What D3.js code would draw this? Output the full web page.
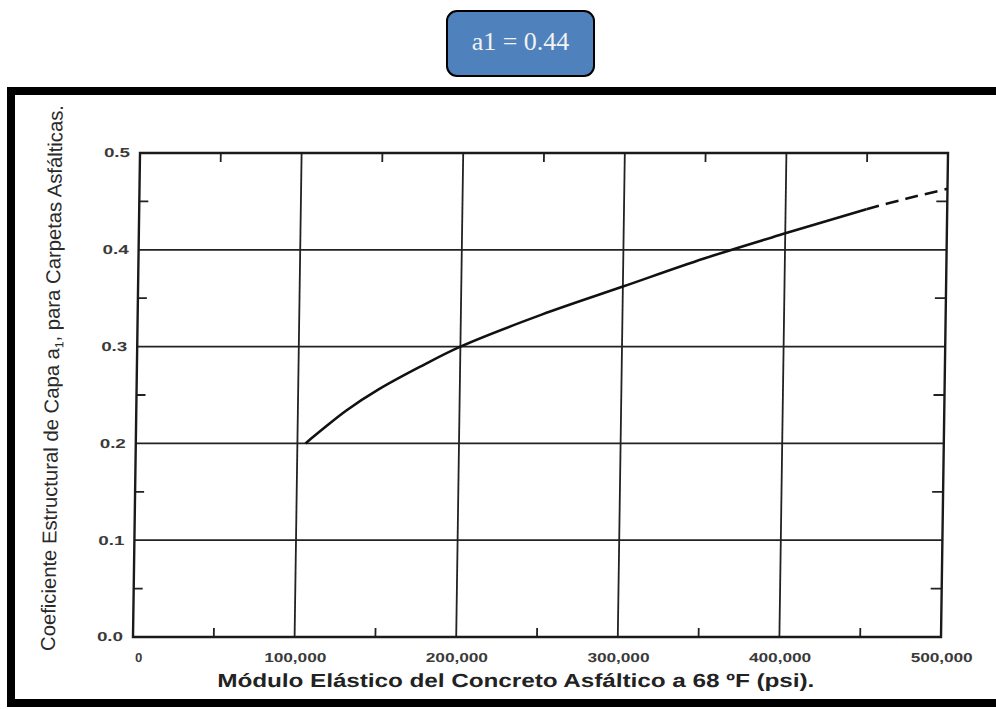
<!DOCTYPE html>
<html>
<head>
<meta charset="utf-8">
<script src="https://cdn.jsdelivr.net/npm/d3@7/dist/d3.min.js"></script>
<style>
  html, body { margin: 0; padding: 0; background: #fff; }
  svg { display: block; }
</style>
</head>
<body>
<svg id="chart" width="996" height="709"></svg>
<script>
// ---- data ----
const solidModulus = [105000, 115000, 130000, 150000, 175000, 200000, 250000, 300000, 350000, 400000, 450000];
const solidA1      = [0.200, 0.214, 0.234, 0.256, 0.279, 0.300, 0.333, 0.362, 0.391, 0.417, 0.442];
const dashedModulus = [450000, 475000, 500000];
const dashedA1      = [0.442, 0.453, 0.463];

const xTickValues = [0, 100000, 200000, 300000, 400000, 500000];
const xTickLabels = ["0", "100,000", "200,000", "300,000", "400,000", "500,000"];
const xMinorTicks = [50000, 150000, 250000, 350000, 450000];
const yTickValues = [0, 0.1, 0.2, 0.3, 0.4, 0.5];
const yTickLabels = ["0.0", "0.1", "0.2", "0.3", "0.4", "0.5"];
const yMinorTicks = [0.05, 0.15, 0.25, 0.35, 0.45];

const titleText = "a1 = 0.44";
const xTitle = "Módulo Elástico del Concreto Asfáltico a 68 ºF (psi).";
const yTitleA = "Coeficiente Estructural de Capa a";
const yTitleSub = "1";
const yTitleB = ", para Carpetas Asfálticas.";

// ---- layout ----
const svg = d3.select("#chart");
const L = 133, R = 941, T = 153, B = 637;

const x = d3.scaleLinear().domain([0, 500000]).range([L, R]);
const y = d3.scaleLinear().domain([0, 0.5]).range([B, T]);

// outer black frame (open past the right edge)
svg.append("rect")
  .attr("x", 11).attr("y", 91).attr("width", 1000).attr("height", 612)
  .attr("fill", "none").attr("stroke", "#000").attr("stroke-width", 8);

// title box
svg.append("rect")
  .attr("x", 447).attr("y", 11).attr("width", 147).attr("height", 65)
  .attr("rx", 10).attr("ry", 10)
  .attr("fill", "#4f81bd").attr("stroke", "#000").attr("stroke-width", 2);
svg.append("text")
  .attr("x", 520.5).attr("y", 50)
  .attr("text-anchor", "middle")
  .attr("font-family", "'Liberation Serif', 'Times New Roman', serif")
  .attr("font-size", 26)
  .attr("fill", "#f2f2f2")
  .text(titleText);

// plot group, slightly sheared like the scanned original
const g = svg.append("g")
  .attr("transform", `translate(0,${B}) skewX(-0.83) translate(0,${-B})`);

// grid lines
g.append("g").selectAll("line")
  .data(xTickValues.slice(1, -1)).join("line")
  .attr("x1", d => x(d)).attr("x2", d => x(d))
  .attr("y1", T).attr("y2", B)
  .attr("stroke", "#222").attr("stroke-width", 1.8);
g.append("g").selectAll("line")
  .data(yTickValues.slice(1, -1)).join("line")
  .attr("x1", L).attr("x2", R)
  .attr("y1", d => y(d)).attr("y2", d => y(d))
  .attr("stroke", "#222").attr("stroke-width", 1.8);

// minor ticks (inward on all four sides)
const tk = 9;
g.append("g").selectAll("line")
  .data(xMinorTicks).join("line")
  .attr("x1", d => x(d)).attr("x2", d => x(d))
  .attr("y1", B).attr("y2", B - tk)
  .attr("stroke", "#222").attr("stroke-width", 1.8);
g.append("g").selectAll("line")
  .data(xMinorTicks).join("line")
  .attr("x1", d => x(d)).attr("x2", d => x(d))
  .attr("y1", T).attr("y2", T + tk)
  .attr("stroke", "#222").attr("stroke-width", 1.8);
g.append("g").selectAll("line")
  .data(yMinorTicks).join("line")
  .attr("x1", L).attr("x2", L + tk)
  .attr("y1", d => y(d)).attr("y2", d => y(d))
  .attr("stroke", "#222").attr("stroke-width", 1.8);
g.append("g").selectAll("line")
  .data(yMinorTicks).join("line")
  .attr("x1", R).attr("x2", R - 11)
  .attr("y1", d => y(d)).attr("y2", d => y(d))
  .attr("stroke", "#222").attr("stroke-width", 1.8);

// frame of plot area
g.append("rect")
  .attr("x", L).attr("y", T).attr("width", R - L).attr("height", B - T)
  .attr("fill", "none").attr("stroke", "#1a1a1a").attr("stroke-width", 2.4);

// curve
const line = d3.line().x(d => x(d[0])).y(d => y(d[1])).curve(d3.curveCatmullRom.alpha(0.5));
const solid = solidModulus.map((m, i) => [m, solidA1[i]]);
const dashed = dashedModulus.map((m, i) => [m, dashedA1[i]]);
g.append("path").datum(solid).attr("d", line)
  .attr("fill", "none").attr("stroke", "#111").attr("stroke-width", 2.6);
g.append("path").datum(dashed).attr("d", line)
  .attr("fill", "none").attr("stroke", "#111").attr("stroke-width", 2.6)
  .attr("stroke-dasharray", "13,7");

// tick labels
const tickFont = "'Liberation Sans', Arial, sans-serif";
g.append("g").selectAll("text")
  .data(xTickValues).join("text")
  .attr("x", (d, i) => x(d) + (i === 0 ? 6 : 1))
  .attr("y", 662)
  .attr("text-anchor", "middle")
  .attr("font-family", tickFont).attr("font-size", 13).attr("font-weight", "bold")
  .attr("fill", "#3a3a3a")
  .each(function (d, i) {
    const s = xTickLabels[i];
    const t = d3.select(this).text(s);
    if (s.length > 1) t.attr("textLength", 62).attr("lengthAdjust", "spacingAndGlyphs");
  });
g.append("g").selectAll("text")
  .data(yTickValues).join("text")
  .attr("x", L - 10)
  .attr("y", d => y(d) + 4.5)
  .attr("text-anchor", "end")
  .attr("font-family", tickFont).attr("font-size", 13).attr("font-weight", "bold")
  .attr("fill", "#3a3a3a")
  .attr("textLength", 26).attr("lengthAdjust", "spacingAndGlyphs")
  .text((d, i) => yTickLabels[i]);

// axis titles
g.append("text")
  .attr("x", 218).attr("y", 687)
  .attr("text-anchor", "start")
  .attr("font-family", tickFont).attr("font-size", 19).attr("font-weight", "bold")
  .attr("fill", "#222")
  .attr("textLength", 597).attr("lengthAdjust", "spacingAndGlyphs")
  .text(xTitle);

const yt = g.append("text")
  .attr("transform", "translate(55,378) rotate(-90)")
  .attr("text-anchor", "middle")
  .attr("font-family", tickFont).attr("font-size", 20)
  .attr("fill", "#2a2a2a")
  .attr("textLength", 546).attr("lengthAdjust", "spacingAndGlyphs");
yt.append("tspan").text(yTitleA);
yt.append("tspan").attr("font-size", 12).attr("dy", 4).text(yTitleSub);
yt.append("tspan").attr("dy", -4).text(yTitleB);
</script>
</body>
</html>
